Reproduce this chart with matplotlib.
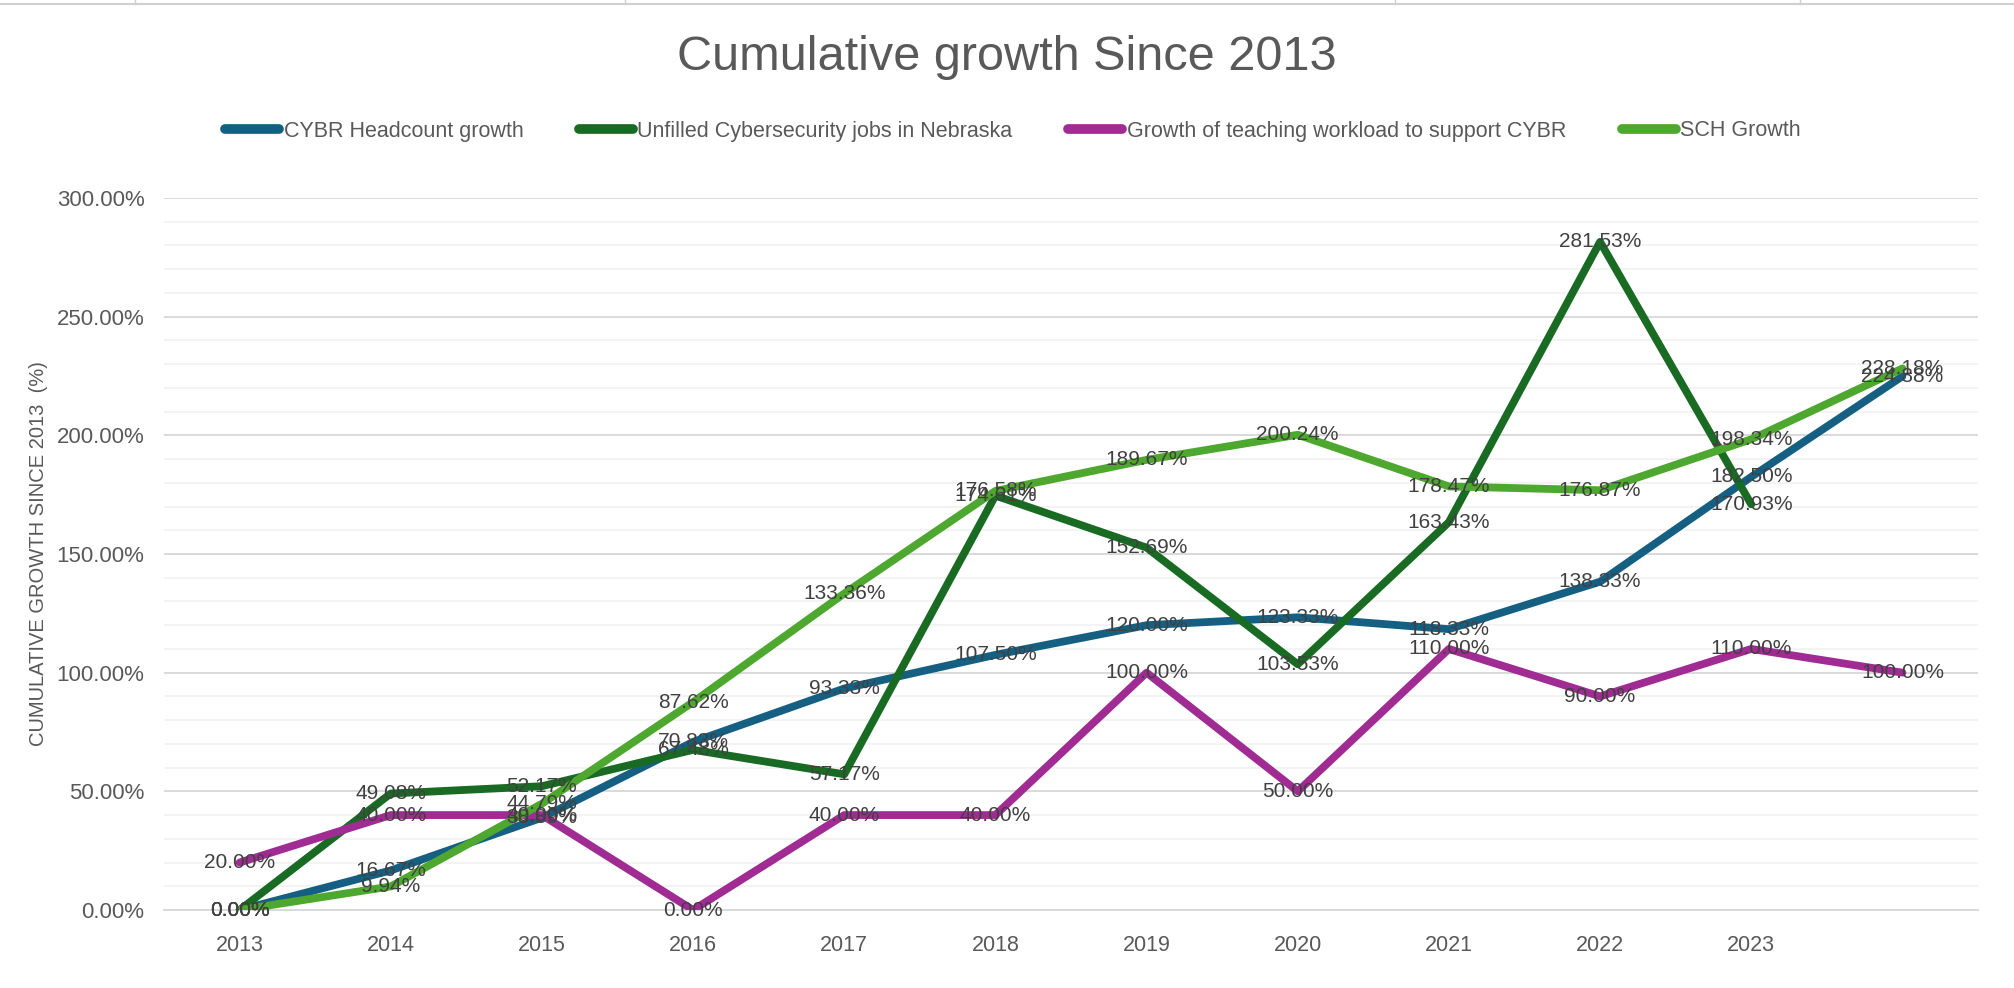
import matplotlib
matplotlib.use("Agg")
import matplotlib.pyplot as plt
from matplotlib.ticker import MultipleLocator, FuncFormatter
from matplotlib.lines import Line2D
import numpy as np

categories = ["2013", "2014", "2015", "2016", "2017", "2018", "2019", "2020",
              "2021", "2022", "2023", ""]

cybr_headcount = [0.00, 16.67, 38.89, 70.83, 93.33, 107.50, 120.00, 123.33,
                  118.33, 138.33, 182.50, 224.88]
unfilled_jobs = [0.00, 49.08, 52.17, 67.48, 57.17, 174.61, 152.69, 103.53,
                 163.43, 281.53, 170.93, None]
teaching_workload = [20.00, 40.00, 40.00, 0.00, 40.00, 40.00, 100.00, 50.00,
                     110.00, 90.00, 110.00, 100.00]
sch_growth = [0.00, 9.94, 44.79, 87.62, 133.36, 176.58, 189.67, 200.24,
              178.47, 176.87, 198.34, 228.18]

series = [
    ("CYBR Headcount growth", cybr_headcount, "#156082"),
    ("Unfilled Cybersecurity jobs in Nebraska", unfilled_jobs, "#196B24"),
    ("Growth of teaching workload to support CYBR", teaching_workload, "#A02B93"),
    ("SCH Growth", sch_growth, "#4EA72E"),
]

W, H = 2014, 988
fig = plt.figure(figsize=(W / 100, H / 100), dpi=100)
fig.patch.set_facecolor("white")

left, right = 164 / W, 1978 / W
bottom, top = 1 - 910 / H, 1 - 198 / H
ax = fig.add_axes([left, bottom, right - left, top - bottom])

label_font = "Liberation Sans"
x = np.arange(len(categories))

handles = []
for name, vals, color in series:
    xs = [xi for xi, v in zip(x, vals) if v is not None]
    ys = [v for v in vals if v is not None]
    ln, = ax.plot(xs, ys, color=color, lw=5.6, solid_capstyle="round",
                  solid_joinstyle="round", zorder=3, label=name)
    handles.append(ln)

# data labels (centered on points)
for name, vals, color in series:
    for xi, v in zip(x, vals):
        if v is None:
            continue
        ax.text(xi, v, f"{v:.2f}%", ha="center", va="center",
                fontsize=15, color="#404040", family=label_font, zorder=5)

ax.set_xlim(-0.5, len(categories) - 0.5)
ax.set_ylim(0, 300)
ax.yaxis.set_major_locator(MultipleLocator(50))
ax.yaxis.set_minor_locator(MultipleLocator(10))
ax.yaxis.set_major_formatter(FuncFormatter(lambda v, p: f"{v:.2f}%"))
ax.set_xticks(x)
ax.set_xticklabels(categories)

ax.grid(which="major", axis="y", color="#D9D9D9", lw=1.4, zorder=1)
ax.grid(which="minor", axis="y", color="#F3F3F3", lw=1.4, zorder=1)
ax.grid(which="major", axis="x", visible=False)
for s in ["top", "right", "left"]:
    ax.spines[s].set_visible(False)
ax.spines["bottom"].set_color("#D9D9D9")
ax.spines["bottom"].set_linewidth(1.4)
ax.tick_params(axis="both", which="both", length=0)
ax.tick_params(axis="y", pad=14, labelsize=16, labelcolor="#595959")
ax.tick_params(axis="x", pad=18, labelsize=15.5, labelcolor="#595959")
for lab in ax.get_xticklabels() + ax.get_yticklabels():
    lab.set_family(label_font)

ax.set_ylabel("CUMULATIVE GROWTH SINCE 2013  (%)", fontsize=14.5,
              color="#595959", family=label_font)
ax.yaxis.set_label_coords(-0.064, 0.5)

fig.text(0.5, 1 - 57 / H, "Cumulative growth Since 2013", ha="center",
         va="center", fontsize=35, color="#595959", family=label_font)

leg = fig.legend(handles=handles, loc="center", ncol=4,
                 bbox_to_anchor=(0.503, 1 - 131 / H), frameon=False,
                 prop={"family": label_font, "size": 15.5},
                 handlelength=2.5, handletextpad=0.2, columnspacing=2.6)
for t in leg.get_texts():
    t.set_color("#595959")
for lh in leg.get_lines():
    lh.set_linewidth(7)
    lh.set_solid_capstyle("round")

# spreadsheet cell border remnants at the very top
fig.add_artist(Line2D([0, 1], [1 - 4 / H, 1 - 4 / H], color="#D0D0D0", lw=1.5))
for xv in [135, 625, 1395, 1800]:
    fig.add_artist(Line2D([xv / W, xv / W], [1 - 4 / H, 1.0], color="#D0D0D0", lw=1))

fig.savefig("out.png", dpi=100, facecolor="white")
